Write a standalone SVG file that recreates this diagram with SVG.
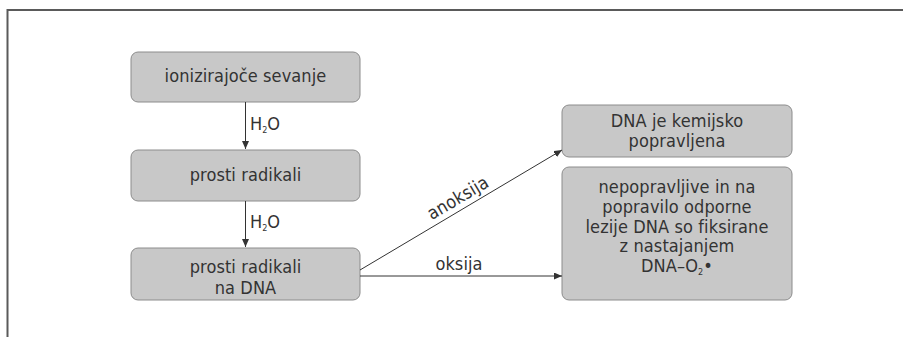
<svg xmlns="http://www.w3.org/2000/svg" width="903" height="337" viewBox="0 0 903 337">
<style>
.box{fill:#c8c8c8;stroke:#8c8c8c;stroke-width:1}
.t{font-family:"DejaVu Sans Condensed","DejaVu Sans",sans-serif;font-stretch:condensed;font-size:18px;letter-spacing:0.1px;fill:#333;text-anchor:middle}
.lbl{font-family:"DejaVu Sans Condensed","DejaVu Sans",sans-serif;font-stretch:condensed;font-size:18px;fill:#333}
.c{stroke:#333;stroke-width:1;fill:none}
.sub{font-size:9px}
</style>
<defs>
<marker id="ah" markerWidth="8" markerHeight="7" refX="8" refY="3.5" orient="auto" markerUnits="userSpaceOnUse">
<path d="M0,0 L8,3.5 L0,7 z" fill="#333"/>
</marker>
</defs>
<path d="M7.5,337 V10 H903" fill="none" stroke="#5a5a5a" stroke-width="2"/>
<g id="n1"><rect class="box" x="131" y="52" width="229" height="50" rx="7"/><text class="t" x="245.5" y="82">ionizirajoče sevanje</text></g>
<g id="n2"><rect class="box" x="131" y="150" width="229" height="51" rx="7"/><text class="t" x="245.5" y="180.5">prosti radikali</text></g>
<g id="n3"><rect class="box" x="131" y="248" width="229" height="52" rx="7"/><text class="t" x="245.5" y="273">prosti radikali</text><text class="t" x="245.5" y="294">na DNA</text></g>
<g id="n4"><rect class="box" x="562" y="105" width="230" height="52" rx="7"/><text class="t" x="677" y="126.5">DNA je kemijsko</text><text class="t" x="677" y="146.5">popravljena</text></g>
<g id="n5"><rect class="box" x="562" y="167" width="230" height="133" rx="7"/>
<text class="t" x="677" y="193.3">nepopravljive in na</text>
<text class="t" x="677" y="213">popravilo odporne</text>
<text class="t" x="677" y="232.5">lezije DNA so fiksirane</text>
<text class="t" x="677" y="252">z nastajanjem</text>
<text class="t" x="677" y="271.7">DNA–O<tspan class="sub" dy="3">2</tspan><tspan dy="-3">•</tspan></text>
</g>
<g id="connectors">
<path class="c" d="M245.5,102 V149" marker-end="url(#ah)"/>
<path class="c" d="M245.5,201 V247" marker-end="url(#ah)"/>
<path class="c" d="M360,270 L562,150" marker-end="url(#ah)"/>
<path class="c" d="M360,276 H562" marker-end="url(#ah)"/>
<text class="lbl" x="250" y="130">H<tspan class="sub" dy="3">2</tspan><tspan dy="-3">O</tspan></text>
<text class="lbl" x="250" y="228">H<tspan class="sub" dy="3">2</tspan><tspan dy="-3">O</tspan></text>
<text class="t" x="0" y="0" transform="translate(464,208.2) rotate(-30.7) translate(0,-6)">anoksija</text>
<text class="t" x="459" y="269.5">oksija</text>
</g>
</svg>
